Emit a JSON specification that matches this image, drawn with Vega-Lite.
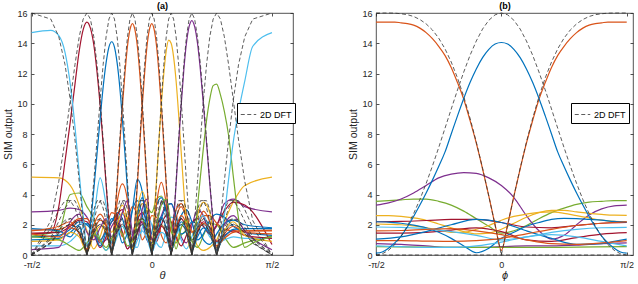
{
"$schema": "https://vega.github.io/schema/vega-lite/v6.json",
"padding": {"left": 3, "top": 1, "right": 0, "bottom": 0},
"spacing": 52,
"resolve": {"scale": {"color": "independent", "strokeDash": "independent", "strokeWidth": "independent"}, "legend": {"strokeDash": "independent"}},
"config": {
  "font": "Liberation Sans",
  "view": {"stroke": "#262626", "strokeWidth": 0.8},
  "axis": {"domain": false, "grid": false, "tickColor": "#262626", "tickSize": -3, "tickWidth": 0.8, "labelColor": "#262626", "labelFontSize": 9, "labelFont": "Liberation Sans", "titleFont": "Liberation Sans", "titleFontWeight": "normal", "titleColor": "#262626", "labelFlush": false},
  "legend": {"title": null}
},
"datasets": {
"a": [
{"x":-1,"d1":0,"d2":0,"d3":0,"d4":0,"d5":0,"d6":0,"d7":0,"d8":16,"d0":0,"s1":1.4,"s2":1.75,"s3":1.6,"s4":1.4,"s5":0.9,"s6":0.35,"s7":1.2,"s8":14.7,"s9":5.15,"s10":2.85,"s11":1.25,"s12":0.6,"s13":1.45,"s14":1.0,"s15":1.65,"s16":1.2},
{"x":-0.8404,"d1":2.27,"d2":1.14,"d3":0.85,"d4":0.77,"d5":0.81,"d6":1.03,"d7":1.79,"d8":15.6,"s1":1.5,"s8":14.85},
{"x":-0.7737,"d1":4.87,"d2":2.23,"d3":1.6,"d4":1.42,"d5":1.48,"d6":1.83,"d7":3,"d8":14.43,"s1":3.2,"s2":1.6,"s3":1.9,"s4":1.2,"s5":1.0,"s6":0.5,"s7":1.0,"s8":14.5,"s9":5.1,"s10":2.95,"s11":1.6,"s12":0.6,"s13":1.5,"s14":1.1,"s15":1.7,"s16":1.3},
{"x":-0.722,"d1":7.6,"d2":3.1,"d3":2.15,"d4":1.87,"d5":1.9,"d6":2.3,"d7":3.59,"d8":12.59,"s1":6.2,"s8":13.4},
{"x":-0.6783,"d1":10.25,"d2":3.6,"d3":2.41,"d4":2.04,"d5":2.04,"d6":2.41,"d7":3.6,"d8":10.25,"s1":8.8,"s2":1.2,"s3":2.2,"s4":1.8,"s5":1.5,"s6":2.2,"s7":0.6,"s8":11.3,"s9":4.6,"s10":3.1,"s11":4.0,"s12":0.9,"s13":1.9,"s14":1.5,"s15":2.0,"s16":1.7},
{"x":-0.6391,"d1":12.59,"d2":3.59,"d3":2.3,"d4":1.9,"d5":1.87,"d6":2.15,"d7":3.1,"d8":7.6,"s1":11.3,"s8":8.5},
{"x":-0.6038,"d1":14.43,"d2":3,"d3":1.83,"d4":1.48,"d5":1.42,"d6":1.6,"d7":2.23,"d8":4.87,"s1":13.5,"s2":1.9,"s3":1.4,"s4":1.5,"s5":1.2,"s6":2.7,"s7":0.3,"s8":5.4,"s9":3.3,"s10":3.0,"s11":4.1,"s12":1.5,"s13":2.3,"s14":2.0,"s15":2.4,"s16":2.2},
{"x":-0.5709,"d1":15.6,"d2":1.79,"d3":1.03,"d4":0.81,"d5":0.77,"d6":0.85,"d7":1.14,"d8":2.27,"s1":14.9,"s8":2.6},
{"x":-0.5399,"d1":16,"d2":0,"d3":0,"d4":0,"d5":0,"d6":0,"d7":0,"d8":0,"s1":15.4,"s2":0.3,"s3":0.4,"s4":0.3,"s5":0.2,"s6":1.5,"s7":0.8,"s8":0.6,"s9":1.6,"s10":2.5,"s11":3.2,"s12":2.0,"s13":2.2,"s14":2.1,"s15":2.4,"s16":2.0},
{"x":-0.5106,"d1":15.6,"d2":2.27,"d3":1.14,"d4":0.85,"d5":0.77,"d6":0.81,"d7":1.03,"d8":1.79,"s1":15.0,"s2":2.0},
{"x":-0.4826,"d1":14.43,"d2":4.87,"d3":2.23,"d4":1.6,"d5":1.42,"d6":1.48,"d7":1.83,"d8":3,"s1":13.9,"s2":4.3,"s3":1.6,"s4":2.0,"s5":1.3,"s6":1.0,"s7":1.4,"s8":2.5,"s9":0.4,"s10":1.6,"s11":2.4,"s12":1.8,"s13":1.4,"s14":1.5,"s15":1.6,"s16":1.5},
{"x":-0.4557,"d1":12.59,"d2":7.6,"d3":3.1,"d4":2.15,"d5":1.87,"d6":1.9,"d7":2.3,"d8":3.59,"s1":12.1,"s2":6.7},
{"x":-0.4298,"d1":10.25,"d2":10.25,"d3":3.6,"d4":2.41,"d5":2.04,"d6":2.04,"d7":2.41,"d8":3.6,"s1":9.9,"s2":9.0,"s3":2.3,"s4":2.7,"s5":1.9,"s6":1.8,"s7":1.0,"s8":5.1,"s9":1.2,"s10":0.8,"s11":1.0,"s12":0.9,"s13":0.5,"s14":0.6,"s15":0.9,"s16":1.0},
{"x":-0.4047,"d1":7.6,"d2":12.59,"d3":3.59,"d4":2.3,"d5":1.9,"d6":1.87,"d7":2.15,"d8":3.1,"s1":7.3,"s2":11.1},
{"x":-0.3803,"d1":4.87,"d2":14.43,"d3":3,"d4":1.83,"d5":1.48,"d6":1.42,"d7":1.6,"d8":2.23,"s1":4.7,"s2":12.7,"s3":1.9,"s4":2.0,"s5":1.5,"s6":2.4,"s7":0.5,"s8":3.3,"s9":2.3,"s10":1.0,"s11":0.3,"s12":0.3,"s13":1.2,"s14":1.5,"s15":1.8,"s16":1.6},
{"x":-0.3566,"d1":2.27,"d2":15.6,"d3":1.79,"d4":1.03,"d5":0.81,"d6":0.77,"d7":0.85,"d8":1.14,"s1":2.2,"s2":13.75},
{"x":-0.3333,"d1":0,"d2":16,"d3":0,"d4":0,"d5":0,"d6":0,"d7":0,"d8":0,"s1":0.3,"s2":14.1,"s3":0.3,"s4":0.4,"s5":0.3,"s6":1.2,"s7":1.1,"s8":0.4,"s9":1.5,"s10":1.9,"s11":1.0,"s12":0.9,"s13":2.2,"s14":2.4,"s15":2.8,"s16":2.2},
{"x":-0.3106,"d1":1.79,"d2":15.6,"d3":2.27,"d4":1.14,"d5":0.85,"d6":0.77,"d7":0.81,"d8":1.03,"s2":13.75,"s3":2.2},
{"x":-0.2883,"d1":3,"d2":14.43,"d3":4.87,"d4":2.23,"d5":1.6,"d6":1.42,"d7":1.48,"d8":1.83,"s1":2.6,"s2":12.7,"s3":4.65,"s4":3.5,"s5":2.0,"s6":1.6,"s7":1.8,"s8":1.2,"s9":2.6,"s10":2.3,"s11":1.8,"s12":2.2,"s13":2.4,"s14":2.0,"s15":2.6,"s16":2.8},
{"x":-0.2663,"d1":3.59,"d2":12.59,"d3":7.6,"d4":3.1,"d5":2.15,"d6":1.87,"d7":1.9,"d8":2.3,"s2":11.1,"s3":7.3},
{"x":-0.2447,"d1":3.6,"d2":10.25,"d3":10.25,"d4":3.6,"d5":2.41,"d6":2.04,"d7":2.04,"d8":2.41,"s1":3.0,"s2":9.0,"s3":9.8,"s4":4.7,"s5":2.8,"s6":2.8,"s7":1.4,"s8":1.9,"s9":3.3,"s10":1.4,"s11":1.9,"s12":2.7,"s13":1.5,"s14":0.8,"s15":1.2,"s16":2.4},
{"x":-0.2234,"d1":3.1,"d2":7.6,"d3":12.59,"d4":3.59,"d5":2.3,"d6":1.9,"d7":1.87,"d8":2.15,"s2":6.7,"s3":12.0},
{"x":-0.2023,"d1":2.23,"d2":4.87,"d3":14.43,"d4":3,"d5":1.83,"d6":1.48,"d7":1.42,"d8":1.6,"s1":1.6,"s2":4.3,"s3":13.8,"s4":3.6,"s5":2.2,"s6":3.6,"s7":0.6,"s8":1.3,"s9":2.4,"s10":0.4,"s11":1.2,"s12":2.0,"s13":0.4,"s14":1.5,"s15":2.3,"s16":1.4},
{"x":-0.1815,"d1":1.14,"d2":2.27,"d3":15.6,"d4":1.79,"d5":1.03,"d6":0.81,"d7":0.77,"d8":0.85,"s2":2.0,"s3":14.9},
{"x":-0.1609,"d1":0,"d2":0,"d3":16,"d4":0,"d5":0,"d6":0,"d7":0,"d8":0,"s1":0.4,"s2":0.2,"s3":15.3,"s4":0.3,"s5":0.4,"s6":1.5,"s7":0.9,"s8":0.2,"s9":0.5,"s10":1.3,"s11":0.6,"s12":0.6,"s13":1.0,"s14":3.0,"s15":3.2,"s16":3.0},
{"x":-0.1404,"d1":1.03,"d2":1.79,"d3":15.6,"d4":2.27,"d5":1.14,"d6":0.85,"d7":0.77,"d8":0.81,"s3":14.9,"s4":2.2},
{"x":-0.1201,"d1":1.83,"d2":3,"d3":14.43,"d4":4.87,"d5":2.23,"d6":1.6,"d7":1.42,"d8":1.48,"s1":1.5,"s2":2.6,"s3":13.8,"s4":4.65,"s5":3.0,"s6":1.0,"s7":2.0,"s8":1.0,"s9":2.2,"s10":2.4,"s11":1.5,"s12":0.5,"s13":2.3,"s14":3.6,"s15":2.6,"s16":5.0},
{"x":-0.0999,"d1":2.3,"d2":3.59,"d3":12.59,"d4":7.6,"d5":3.1,"d6":2.15,"d7":1.87,"d8":1.9,"s3":12.0,"s4":7.3},
{"x":-0.0798,"d1":2.41,"d2":3.6,"d3":10.25,"d4":10.25,"d5":3.6,"d6":2.41,"d7":2.04,"d8":2.04,"s1":2.2,"s2":3.8,"s3":9.8,"s4":9.8,"s5":4.2,"s6":3.0,"s7":2.4,"s8":1.6,"s9":3.4,"s10":2.1,"s11":2.6,"s12":1.8,"s13":2.8,"s14":2.7,"s15":1.0,"s16":4.2},
{"x":-0.0598,"d1":2.15,"d2":3.1,"d3":7.6,"d4":12.59,"d5":3.59,"d6":2.3,"d7":1.9,"d8":1.87,"s3":7.3,"s4":12.0},
{"x":-0.0398,"d1":1.6,"d2":2.23,"d3":4.87,"d4":14.43,"d5":3,"d6":1.83,"d7":1.48,"d8":1.42,"s1":1.5,"s2":2.4,"s3":4.65,"s4":13.8,"s5":3.1,"s6":3.7,"s7":1.4,"s8":1.1,"s9":2.8,"s10":1.0,"s11":3.1,"s12":2.5,"s13":2.2,"s14":1.0,"s15":1.6,"s16":1.5},
{"x":-0.0199,"d1":0.85,"d2":1.14,"d3":2.27,"d4":15.6,"d5":1.79,"d6":1.03,"d7":0.81,"d8":0.77,"s3":2.2,"s4":14.9},
{"x":0,"d1":0,"d2":0,"d3":0,"d4":16,"d5":0,"d6":0,"d7":0,"d8":0,"s1":0.3,"s2":0.3,"s3":0.2,"s4":15.3,"s5":0.3,"s6":1.0,"s7":0.5,"s8":0.2,"s9":1.0,"s10":0.6,"s11":2.8,"s12":2.0,"s13":1.1,"s14":1.5,"s15":2.6,"s16":0.8},
{"x":0.0199,"d1":0.81,"d2":1.03,"d3":1.79,"d4":15.6,"d5":2.27,"d6":1.14,"d7":0.85,"d8":0.77,"s4":14.9,"s5":2.6},
{"x":0.0398,"d1":1.48,"d2":1.83,"d3":3,"d4":14.43,"d5":4.87,"d6":2.23,"d7":1.6,"d8":1.42,"s1":1.2,"s2":1.9,"s3":3.4,"s4":13.8,"s5":5.0,"s6":1.8,"s7":2.0,"s8":1.0,"s9":1.3,"s10":1.7,"s11":3.7,"s12":0.8,"s13":0.9,"s14":3.3,"s15":2.5,"s16":1.2},
{"x":0.0598,"d1":1.9,"d2":2.3,"d3":3.59,"d4":12.59,"d5":7.6,"d6":3.1,"d7":2.15,"d8":1.87,"s4":12.0,"s5":7.6},
{"x":0.0798,"d1":2.04,"d2":2.41,"d3":3.6,"d4":10.25,"d5":10.25,"d6":3.6,"d7":2.41,"d8":2.04,"s1":1.9,"s2":2.5,"s3":4.8,"s4":9.8,"s5":10.0,"s6":3.5,"s7":3.3,"s8":1.5,"s9":2.0,"s10":2.6,"s11":3.9,"s12":0.5,"s13":2.0,"s14":3.8,"s15":1.3,"s16":2.4},
{"x":0.0999,"d1":1.87,"d2":2.15,"d3":3.1,"d4":7.6,"d5":12.59,"d6":3.59,"d7":2.3,"d8":1.9,"s4":7.3,"s5":12.0},
{"x":0.1201,"d1":1.42,"d2":1.6,"d3":2.23,"d4":4.87,"d5":14.43,"d6":3,"d7":1.83,"d8":1.48,"s1":1.4,"s2":1.8,"s3":3.4,"s4":4.65,"s5":13.5,"s6":3.6,"s7":3.7,"s8":1.2,"s9":1.4,"s10":3.3,"s11":3.0,"s12":1.6,"s13":2.6,"s14":2.8,"s15":0.8,"s16":3.2},
{"x":0.1404,"d1":0.77,"d2":0.85,"d3":1.14,"d4":2.27,"d5":15.6,"d6":1.79,"d7":1.03,"d8":0.81,"s4":2.2,"s5":14.2},
{"x":0.1609,"d1":0,"d2":0,"d3":0,"d4":0,"d5":16,"d6":0,"d7":0,"d8":0,"s1":0.2,"s2":0.3,"s3":0.5,"s4":0.3,"s5":14.0,"s6":0.6,"s7":2.0,"s8":0.3,"s9":0.4,"s10":3.4,"s11":1.6,"s12":2.5,"s13":2.2,"s14":0.9,"s15":1.8,"s16":3.4},
{"x":0.1815,"d1":0.77,"d2":0.81,"d3":1.03,"d4":1.79,"d5":15.6,"d6":2.27,"d7":1.14,"d8":0.85,"s5":13.1,"s6":2.2},
{"x":0.2023,"d1":1.42,"d2":1.48,"d3":1.83,"d4":3,"d5":14.43,"d6":4.87,"d7":2.23,"d8":1.6,"s1":1.6,"s2":1.3,"s3":1.8,"s4":2.4,"s5":11.5,"s6":4.7,"s7":0.4,"s8":1.3,"s9":0.9,"s10":2.5,"s11":0.8,"s12":2.2,"s13":1.2,"s14":1.5,"s15":3.0,"s16":2.6},
{"x":0.2234,"d1":1.87,"d2":1.9,"d3":2.3,"d4":3.59,"d5":12.59,"d6":7.6,"d7":3.1,"d8":2.15,"s5":9.3,"s6":7.4},
{"x":0.2447,"d1":2.04,"d2":2.04,"d3":2.41,"d4":3.6,"d5":10.25,"d6":10.25,"d7":3.6,"d8":2.41,"s1":2.4,"s2":2.2,"s3":2.6,"s4":3.2,"s5":6.8,"s6":9.9,"s7":1.8,"s8":2.0,"s9":1.8,"s10":1.2,"s11":1.3,"s12":1.0,"s13":0.6,"s14":2.6,"s15":3.4,"s16":1.4},
{"x":0.2663,"d1":1.9,"d2":1.87,"d3":2.15,"d4":3.1,"d5":7.6,"d6":12.59,"d7":3.59,"d8":2.3,"s5":4.3,"s6":12.2},
{"x":0.2883,"d1":1.48,"d2":1.42,"d3":1.6,"d4":2.23,"d5":4.87,"d6":14.43,"d7":3,"d8":1.83,"s1":1.7,"s2":1.6,"s3":2.0,"s4":2.3,"s5":2.0,"s6":14.0,"s7":2.3,"s8":1.6,"s9":2.3,"s10":0.8,"s11":1.6,"s12":0.4,"s13":1.3,"s14":3.0,"s15":2.7,"s16":1.6},
{"x":0.3106,"d1":0.81,"d2":0.77,"d3":0.85,"d4":1.14,"d5":2.27,"d6":15.6,"d7":1.79,"d8":1.03,"s5":0.6,"s6":15.1},
{"x":0.3333,"d1":0,"d2":0,"d3":0,"d4":0,"d5":0,"d6":16,"d7":0,"d8":0,"s1":0.4,"s2":0.3,"s3":0.4,"s4":0.3,"s5":0.3,"s6":15.5,"s7":1.0,"s8":0.3,"s9":1.6,"s10":1.9,"s11":0.9,"s12":1.2,"s13":2.1,"s14":2.2,"s15":1.5,"s16":2.2},
{"x":0.3566,"d1":0.85,"d2":0.77,"d3":0.81,"d4":1.03,"d5":1.79,"d6":15.6,"d7":2.27,"d8":1.14,"s6":15.1,"s7":1.2},
{"x":0.3803,"d1":1.6,"d2":1.42,"d3":1.48,"d4":1.83,"d5":3,"d6":14.43,"d7":4.87,"d8":2.23,"s1":1.5,"s2":1.2,"s3":1.6,"s4":1.9,"s5":2.6,"s6":14.0,"s7":3.2,"s8":2.0,"s9":0.6,"s10":3.0,"s11":0.5,"s12":2.0,"s13":2.4,"s14":1.0,"s15":1.9,"s16":2.0},
{"x":0.4047,"d1":2.15,"d2":1.87,"d3":1.9,"d4":2.3,"d5":3.59,"d6":12.59,"d7":7.6,"d8":3.1,"s6":12.2,"s7":5.2},
{"x":0.4298,"d1":2.41,"d2":2.04,"d3":2.04,"d4":2.41,"d5":3.6,"d6":10.25,"d7":10.25,"d8":3.6,"s1":2.2,"s2":1.8,"s3":2.1,"s4":2.9,"s5":3.5,"s6":9.9,"s7":7.1,"s8":2.6,"s9":0.3,"s10":2.6,"s11":1.3,"s12":1.9,"s13":1.9,"s14":1.4,"s15":2.6,"s16":1.0},
{"x":0.4557,"d1":2.3,"d2":1.9,"d3":1.87,"d4":2.15,"d5":3.1,"d6":7.6,"d7":12.59,"d8":3.59,"s6":7.4,"s7":8.9},
{"x":0.4826,"d1":1.83,"d2":1.48,"d3":1.42,"d4":1.6,"d5":2.23,"d6":4.87,"d7":14.43,"d8":3,"s1":1.8,"s2":1.4,"s3":1.7,"s4":2.2,"s5":2.8,"s6":4.7,"s7":10.3,"s8":1.5,"s9":0.5,"s10":1.5,"s11":2.1,"s12":1.2,"s13":1.4,"s14":2.3,"s15":2.6,"s16":0.7},
{"x":0.5106,"d1":1.03,"d2":0.81,"d3":0.77,"d4":0.85,"d5":1.14,"d6":2.27,"d7":15.6,"d8":1.79,"s6":2.2,"s7":11.2},
{"x":0.5399,"d1":0,"d2":0,"d3":0,"d4":0,"d5":0,"d6":0,"d7":16,"d8":0,"s1":0.9,"s2":0.5,"s3":0.6,"s4":0.6,"s5":0.5,"s6":0.3,"s7":11.3,"s8":0.3,"s9":1.0,"s10":1.9,"s11":2.0,"s12":0.8,"s13":2.0,"s14":2.7,"s15":2.1,"s16":1.4},
{"x":0.5709,"d1":1.14,"d2":0.85,"d3":0.77,"d4":0.81,"d5":1.03,"d6":1.79,"d7":15.6,"d8":2.27,"s7":10.6,"s8":0.8},
{"x":0.6038,"d1":2.23,"d2":1.6,"d3":1.42,"d4":1.48,"d5":1.83,"d6":3,"d7":14.43,"d8":4.87,"s1":1.3,"s2":1.2,"s3":1.1,"s4":1.4,"s5":1.6,"s6":2.0,"s7":9.5,"s8":2.6,"s9":2.2,"s10":3.4,"s11":1.2,"s12":1.0,"s13":2.9,"s14":2.5,"s15":1.7,"s16":2.1},
{"x":0.6391,"d1":3.1,"d2":2.15,"d3":1.87,"d4":1.9,"d5":2.3,"d6":3.59,"d7":12.59,"d8":7.6,"s7":7.9,"s8":5.0},
{"x":0.6783,"d1":3.6,"d2":2.41,"d3":2.04,"d4":2.04,"d5":2.41,"d6":3.6,"d7":10.25,"d8":10.25,"s1":1.6,"s2":1.7,"s3":1.5,"s4":1.9,"s5":2.2,"s6":2.6,"s7":5.2,"s8":7.5,"s9":3.5,"s10":3.7,"s11":0.5,"s12":1.2,"s13":3.5,"s14":1.9,"s15":1.6,"s16":2.3},
{"x":0.722,"d1":3.59,"d2":2.3,"d3":1.9,"d4":1.87,"d5":2.15,"d6":3.1,"d7":7.6,"d8":12.59,"s7":2.4,"s8":9.5},
{"x":0.7737,"d1":3,"d2":1.83,"d3":1.48,"d4":1.42,"d5":1.6,"d6":2.23,"d7":4.87,"d8":14.43,"s1":1.3,"s2":1.75,"s3":1.6,"s4":1.5,"s5":1.3,"s6":1.6,"s7":0.5,"s8":11.5,"s9":4.6,"s10":3.2,"s11":0.8,"s12":1.1,"s13":3.3,"s14":1.5,"s15":1.6,"s16":2.0},
{"x":0.8404,"d1":1.79,"d2":1.03,"d3":0.81,"d4":0.77,"d5":0.85,"d6":1.14,"d7":2.27,"d8":15.6,"s7":0.8,"s8":13.8},
{"x":1,"d1":0,"d2":0,"d3":0,"d4":0,"d5":0,"d6":0,"d7":0,"d8":16,"d0":0,"s1":1.1,"s2":1.75,"s3":1.6,"s4":1.4,"s5":0.9,"s6":0.35,"s7":1.2,"s8":14.7,"s9":5.15,"s10":2.85,"s11":1.25,"s12":1.1,"s13":0.7,"s14":1.3,"s15":1.65,"s16":1.8}
],
"b": [
{"x":-1,"e1":0,"e2":16,"e0":0,"t1":15.4,"t2":0.12,"t3":3.55,"t4":3.3,"t5":2.6,"t6":2.05,"t7":0.75,"t8":0.55,"t9":2.2,"t10":1.45,"t11":2.2,"t12":1.05,"t13":1.85,"t14":0.6,"t15":1.6,"t16":0.95},
{"x":-0.95,"e1":0.08,"e2":16,"t1":15.4,"t2":0.2},
{"x":-0.9,"e1":0.31,"e2":16,"t1":15.4,"t2":0.45,"t3":3.6,"t4":3.45,"t5":2.6,"t6":2.03,"t11":2.18},
{"x":-0.85,"e1":0.69,"e2":15.99,"t1":15.4,"t2":0.8},
{"x":-0.8,"e1":1.23,"e2":15.95,"t1":15.35,"t2":1.25,"t3":3.65,"t4":3.7,"t5":2.55,"t6":2.0,"t7":0.7,"t9":2.22,"t10":1.45,"t11":2.1,"t12":1.2,"t13":1.82,"t14":0.55,"t15":1.62,"t16":0.95},
{"x":-0.75,"e1":1.91,"e2":15.89,"t1":15.3,"t2":1.85},
{"x":-0.7,"e1":2.73,"e2":15.77,"t1":15.2,"t2":2.55,"t3":3.7,"t4":4.1,"t5":2.45,"t6":1.92,"t11":1.98},
{"x":-0.65,"e1":3.67,"e2":15.57,"t1":15.0,"t2":3.3},
{"x":-0.6,"e1":4.73,"e2":15.28,"t1":14.7,"t2":4.1,"t3":3.7,"t4":4.6,"t5":2.3,"t6":1.8,"t7":0.6,"t8":0.52,"t9":2.28,"t10":1.5,"t11":1.8,"t12":1.55,"t13":1.75,"t14":0.5,"t15":1.7,"t16":0.92},
{"x":-0.55,"e1":5.88,"e2":14.88,"t1":14.3,"t2":4.95},
{"x":-0.5,"e1":7.1,"e2":14.34,"t1":13.8,"t2":5.85,"t3":3.55,"t4":5.1,"t5":2.05,"t6":1.65,"t11":1.5},
{"x":-0.45,"e1":8.37,"e2":13.64,"t1":13.2,"t2":6.8},
{"x":-0.4,"e1":9.65,"e2":12.76,"t1":12.4,"t2":8.0,"t3":3.3,"t4":5.35,"t5":1.8,"t6":1.5,"t7":0.5,"t9":2.35,"t10":1.65,"t11":1.1,"t12":2.0,"t13":1.55,"t14":0.5,"t15":1.75,"t16":0.9},
{"x":-0.35,"e1":10.91,"e2":11.71,"t1":11.4,"t2":9.2},
{"x":-0.3,"e1":12.1,"e2":10.47,"t1":10.3,"t2":10.35,"t3":2.9,"t4":5.45,"t5":1.55,"t6":1.5,"t11":0.6},
{"x":-0.25,"e1":13.2,"e2":9.05,"t1":8.9,"t2":11.4},
{"x":-0.2,"e1":14.15,"e2":7.47,"t1":7.4,"t2":12.3,"t3":2.4,"t4":5.4,"t5":1.4,"t6":1.7,"t7":0.5,"t8":0.5,"t9":2.35,"t10":1.8,"t11":0.15,"t12":2.35,"t13":1.3,"t14":0.6,"t15":1.6,"t16":0.95},
{"x":-0.15,"e1":14.94,"e2":5.74,"t1":5.7,"t2":13.05},
{"x":-0.1,"e1":15.52,"e2":3.89,"t1":3.9,"t2":13.6,"t3":1.9,"t4":5.1,"t5":1.45,"t6":1.95,"t11":0.45},
{"x":-0.05,"e1":15.88,"e2":1.97,"t1":2.0,"t2":13.95},
{"x":0,"e1":16,"e2":0,"t1":0.3,"t2":14.05,"t3":1.45,"t4":4.6,"t5":1.7,"t6":2.3,"t7":0.55,"t8":0.5,"t9":2.15,"t10":1.55,"t11":1.1,"t12":2.15,"t13":1.0,"t14":0.85,"t15":1.35,"t16":1.1},
{"x":0.05,"e1":15.88,"e2":1.97,"t1":2.0,"t2":13.95},
{"x":0.1,"e1":15.52,"e2":3.89,"t1":3.9,"t2":13.6,"t3":1.6,"t4":3.8,"t5":2.1,"t6":2.55,"t11":1.5},
{"x":0.15,"e1":14.94,"e2":5.74,"t1":5.7,"t2":13.05},
{"x":0.2,"e1":14.15,"e2":7.47,"t1":7.4,"t2":12.3,"t3":1.95,"t4":2.6,"t5":2.5,"t6":2.7,"t7":0.6,"t8":0.5,"t9":1.85,"t10":1.0,"t11":1.9,"t12":1.6,"t13":1.2,"t14":1.2,"t15":1.0,"t16":1.4},
{"x":0.25,"e1":13.2,"e2":9.05,"t1":8.9,"t2":11.4},
{"x":0.3,"e1":12.1,"e2":10.47,"t1":10.3,"t2":10.35,"t3":2.4,"t4":1.6,"t5":2.8,"t6":2.82,"t11":2.15},
{"x":0.35,"e1":10.91,"e2":11.71,"t1":11.4,"t2":9.2},
{"x":0.4,"e1":9.65,"e2":12.76,"t1":12.4,"t2":8.0,"t3":2.8,"t4":1.05,"t5":2.95,"t6":2.85,"t7":0.6,"t9":1.8,"t10":0.9,"t11":2.35,"t12":1.1,"t13":1.5,"t14":1.35,"t15":0.75,"t16":1.7},
{"x":0.45,"e1":8.37,"e2":13.64,"t1":13.2,"t2":6.8},
{"x":0.5,"e1":7.1,"e2":14.34,"t1":13.8,"t2":5.85,"t3":3.1,"t4":1.3,"t5":2.95,"t6":2.75,"t11":2.42},
{"x":0.55,"e1":5.88,"e2":14.88,"t1":14.3,"t2":4.95},
{"x":0.6,"e1":4.73,"e2":15.28,"t1":14.7,"t2":4.1,"t3":3.35,"t4":2.0,"t5":2.85,"t6":2.6,"t7":0.65,"t8":0.52,"t9":1.95,"t10":1.15,"t11":2.4,"t12":0.7,"t13":1.7,"t14":1.2,"t15":0.7,"t16":1.95},
{"x":0.65,"e1":3.67,"e2":15.57,"t1":15.0,"t2":3.3},
{"x":0.7,"e1":2.73,"e2":15.77,"t1":15.2,"t2":2.55,"t3":3.5,"t4":2.65,"t5":2.75,"t6":2.45,"t11":2.35},
{"x":0.75,"e1":1.91,"e2":15.89,"t1":15.3,"t2":1.85},
{"x":0.8,"e1":1.23,"e2":15.95,"t1":15.35,"t2":1.25,"t3":3.55,"t4":3.05,"t5":2.68,"t6":2.3,"t7":0.75,"t9":2.1,"t10":1.38,"t11":2.3,"t12":0.75,"t13":1.8,"t14":0.9,"t15":0.8,"t16":2.1},
{"x":0.85,"e1":0.69,"e2":15.99,"t1":15.4,"t2":0.8},
{"x":0.9,"e1":0.31,"e2":16,"t1":15.4,"t2":0.45,"t3":3.6,"t4":3.25,"t5":2.63,"t6":2.22,"t11":2.22,"t12":0.9},
{"x":0.95,"e1":0.08,"e2":16,"t1":15.4,"t2":0.2},
{"x":1,"e1":0,"e2":16,"e0":0,"t1":15.4,"t2":0.12,"t3":3.6,"t4":3.3,"t5":2.62,"t6":2.2,"t7":0.8,"t8":0.55,"t9":2.15,"t10":1.48,"t11":2.18,"t12":1.05,"t13":1.82,"t14":0.6,"t15":0.95,"t16":2.2}
]
},
"hconcat": [
{
  "width": 262, "height": 242,
  "data": {"name": "a"},
  "resolve": {"axis": {"x": "independent", "y": "independent"}},
  "layer": [
    {
      "transform": [{"fold": ["s9","s10","s11","s12","s13","s14","s15","s16","s1","s2","s3","s4","s5","s6","s7","s8"], "as": ["k","v"]}, {"filter": "isValid(datum.v)"}],
      "mark": {"type": "line", "interpolate": "monotone", "strokeWidth": 1.2},
      "encoding": {
        "x": {"field": "x", "type": "quantitative", "scale": {"domain": [-1.005, 1.175], "nice": false, "zero": false},
              "axis": {"values": [-1, 0, 1], "labelExpr": "datum.value == -1 ? '-π/2' : (datum.value == 1 ? 'π/2' : '0')", "title": "θ", "titleFontStyle": "italic", "titleFontSize": 11, "titlePadding": 0, "labelPadding": 8}},
        "y": {"field": "v", "type": "quantitative", "scale": {"domain": [0, 16], "nice": false},
              "axis": {"values": [0,2,4,6,8,10,12,14,16], "title": "SIM output", "titleFontSize": 10.5, "labelPadding": 7, "titlePadding": 3}},
        "color": {"field": "k", "type": "nominal", "legend": null, "sort": null,
          "scale": {"domain": ["s1","s2","s3","s4","s5","s6","s7","s8","s9","s10","s11","s12","s13","s14","s15","s16"],
                    "range": ["#A2142F","#0072BD","#D95319","#D95319","#EDB120","#7E2F8E","#77AC30","#4DBEEE","#EDB120","#7E2F8E","#77AC30","#4DBEEE","#A2142F","#0072BD","#D95319","#0072BD"]}}
      }
    },
    {
      "transform": [{"fold": ["d1","d2","d3","d4","d5","d6","d7","d8","d0"], "as": ["k","v"]}, {"filter": "isValid(datum.v)"}],
      "mark": {"type": "line", "color": "#333333", "strokeWidth": 0.8},
      "encoding": {
        "x": {"field": "x", "type": "quantitative", "scale": {"domain": [-1.005, 1.175], "nice": false, "zero": false},
              "axis": {"orient": "top", "values": [-1, 0, 1], "labels": false, "title": "(a)", "titleFontWeight": "bold", "titleFontSize": 9, "titleColor": "#000000", "titlePadding": 2, "minExtent": 0}},
        "y": {"field": "v", "type": "quantitative", "scale": {"domain": [0, 16], "nice": false},
              "axis": {"orient": "right", "values": [0,2,4,6,8,10,12,14,16], "labels": false, "title": null, "minExtent": 0}},
        "detail": {"field": "k"},
        "strokeWidth": {"condition": {"test": "datum.k === 'd0'", "value": 1.6}, "value": 0.8},
        "strokeDash": {"datum": "2D DFT", "type": "nominal", "scale": {"domain": ["2D DFT"], "range": [[4, 2.5]]},
          "legend": {"orient": "none", "legendX": 206, "legendY": 90, "strokeColor": "#000000", "fillColor": "#ffffff", "padding": 3, "symbolType": "stroke", "symbolStrokeWidth": 0.8, "symbolStrokeColor": "#333333", "symbolSize": 240, "labelFontSize": 9, "labelColor": "#000000", "labelOffset": 3}}
      }
    }
  ]
},
{
  "width": 257, "height": 242,
  "data": {"name": "b"},
  "resolve": {"axis": {"x": "independent", "y": "independent"}},
  "layer": [
    {
      "transform": [{"fold": ["t3","t4","t5","t6","t7","t8","t9","t10","t11","t12","t13","t14","t15","t16","t1","t2"], "as": ["k","v"]}, {"filter": "isValid(datum.v)"}],
      "mark": {"type": "line", "interpolate": "monotone", "strokeWidth": 1.2},
      "encoding": {
        "x": {"field": "x", "type": "quantitative", "scale": {"domain": [-1.0, 1.05], "nice": false, "zero": false},
              "axis": {"values": [-1, 0, 1], "labelExpr": "datum.value == -1 ? '-π/2' : (datum.value == 1 ? 'π/2' : '0')", "title": "ϕ", "titleFontStyle": "italic", "titleFontSize": 11, "titlePadding": 0, "labelPadding": 8}},
        "y": {"field": "v", "type": "quantitative", "scale": {"domain": [0, 16], "nice": false},
              "axis": {"values": [0,2,4,6,8,10,12,14,16], "title": "SIM output", "titleFontSize": 10.5, "labelPadding": 7, "titlePadding": 3}},
        "color": {"field": "k", "type": "nominal", "legend": null, "sort": null,
          "scale": {"domain": ["t1","t2","t3","t4","t5","t6","t7","t8","t9","t10","t11","t12","t13","t14","t15","t16"],
                    "range": ["#D95319","#0072BD","#77AC30","#7E2F8E","#EDB120","#EDB120","#7E2F8E","#77AC30","#A2142F","#A2142F","#0072BD","#0072BD","#4DBEEE","#4DBEEE","#D95319","#D95319"]}}
      }
    },
    {
      "transform": [{"fold": ["e1","e2","e0"], "as": ["k","v"]}, {"filter": "isValid(datum.v)"}],
      "mark": {"type": "line", "color": "#333333", "strokeWidth": 0.8},
      "encoding": {
        "x": {"field": "x", "type": "quantitative", "scale": {"domain": [-1.0, 1.05], "nice": false, "zero": false},
              "axis": {"orient": "top", "values": [-1, 0, 1], "labels": false, "title": "(b)", "titleFontWeight": "bold", "titleFontSize": 9, "titleColor": "#000000", "titlePadding": 2, "minExtent": 0}},
        "y": {"field": "v", "type": "quantitative", "scale": {"domain": [0, 16], "nice": false},
              "axis": {"orient": "right", "values": [0,2,4,6,8,10,12,14,16], "labels": false, "title": null, "minExtent": 0}},
        "detail": {"field": "k"},
        "strokeWidth": {"condition": {"test": "datum.k === 'e0'", "value": 1.6}, "value": 0.8},
        "strokeDash": {"datum": "2D DFT", "type": "nominal", "scale": {"domain": ["2D DFT"], "range": [[4, 2.5]]},
          "legend": {"orient": "none", "legendX": 195, "legendY": 90, "strokeColor": "#000000", "fillColor": "#ffffff", "padding": 3, "symbolType": "stroke", "symbolStrokeWidth": 0.8, "symbolStrokeColor": "#333333", "symbolSize": 240, "labelFontSize": 9, "labelColor": "#000000", "labelOffset": 3}}
      }
    }
  ]
}
]
}
